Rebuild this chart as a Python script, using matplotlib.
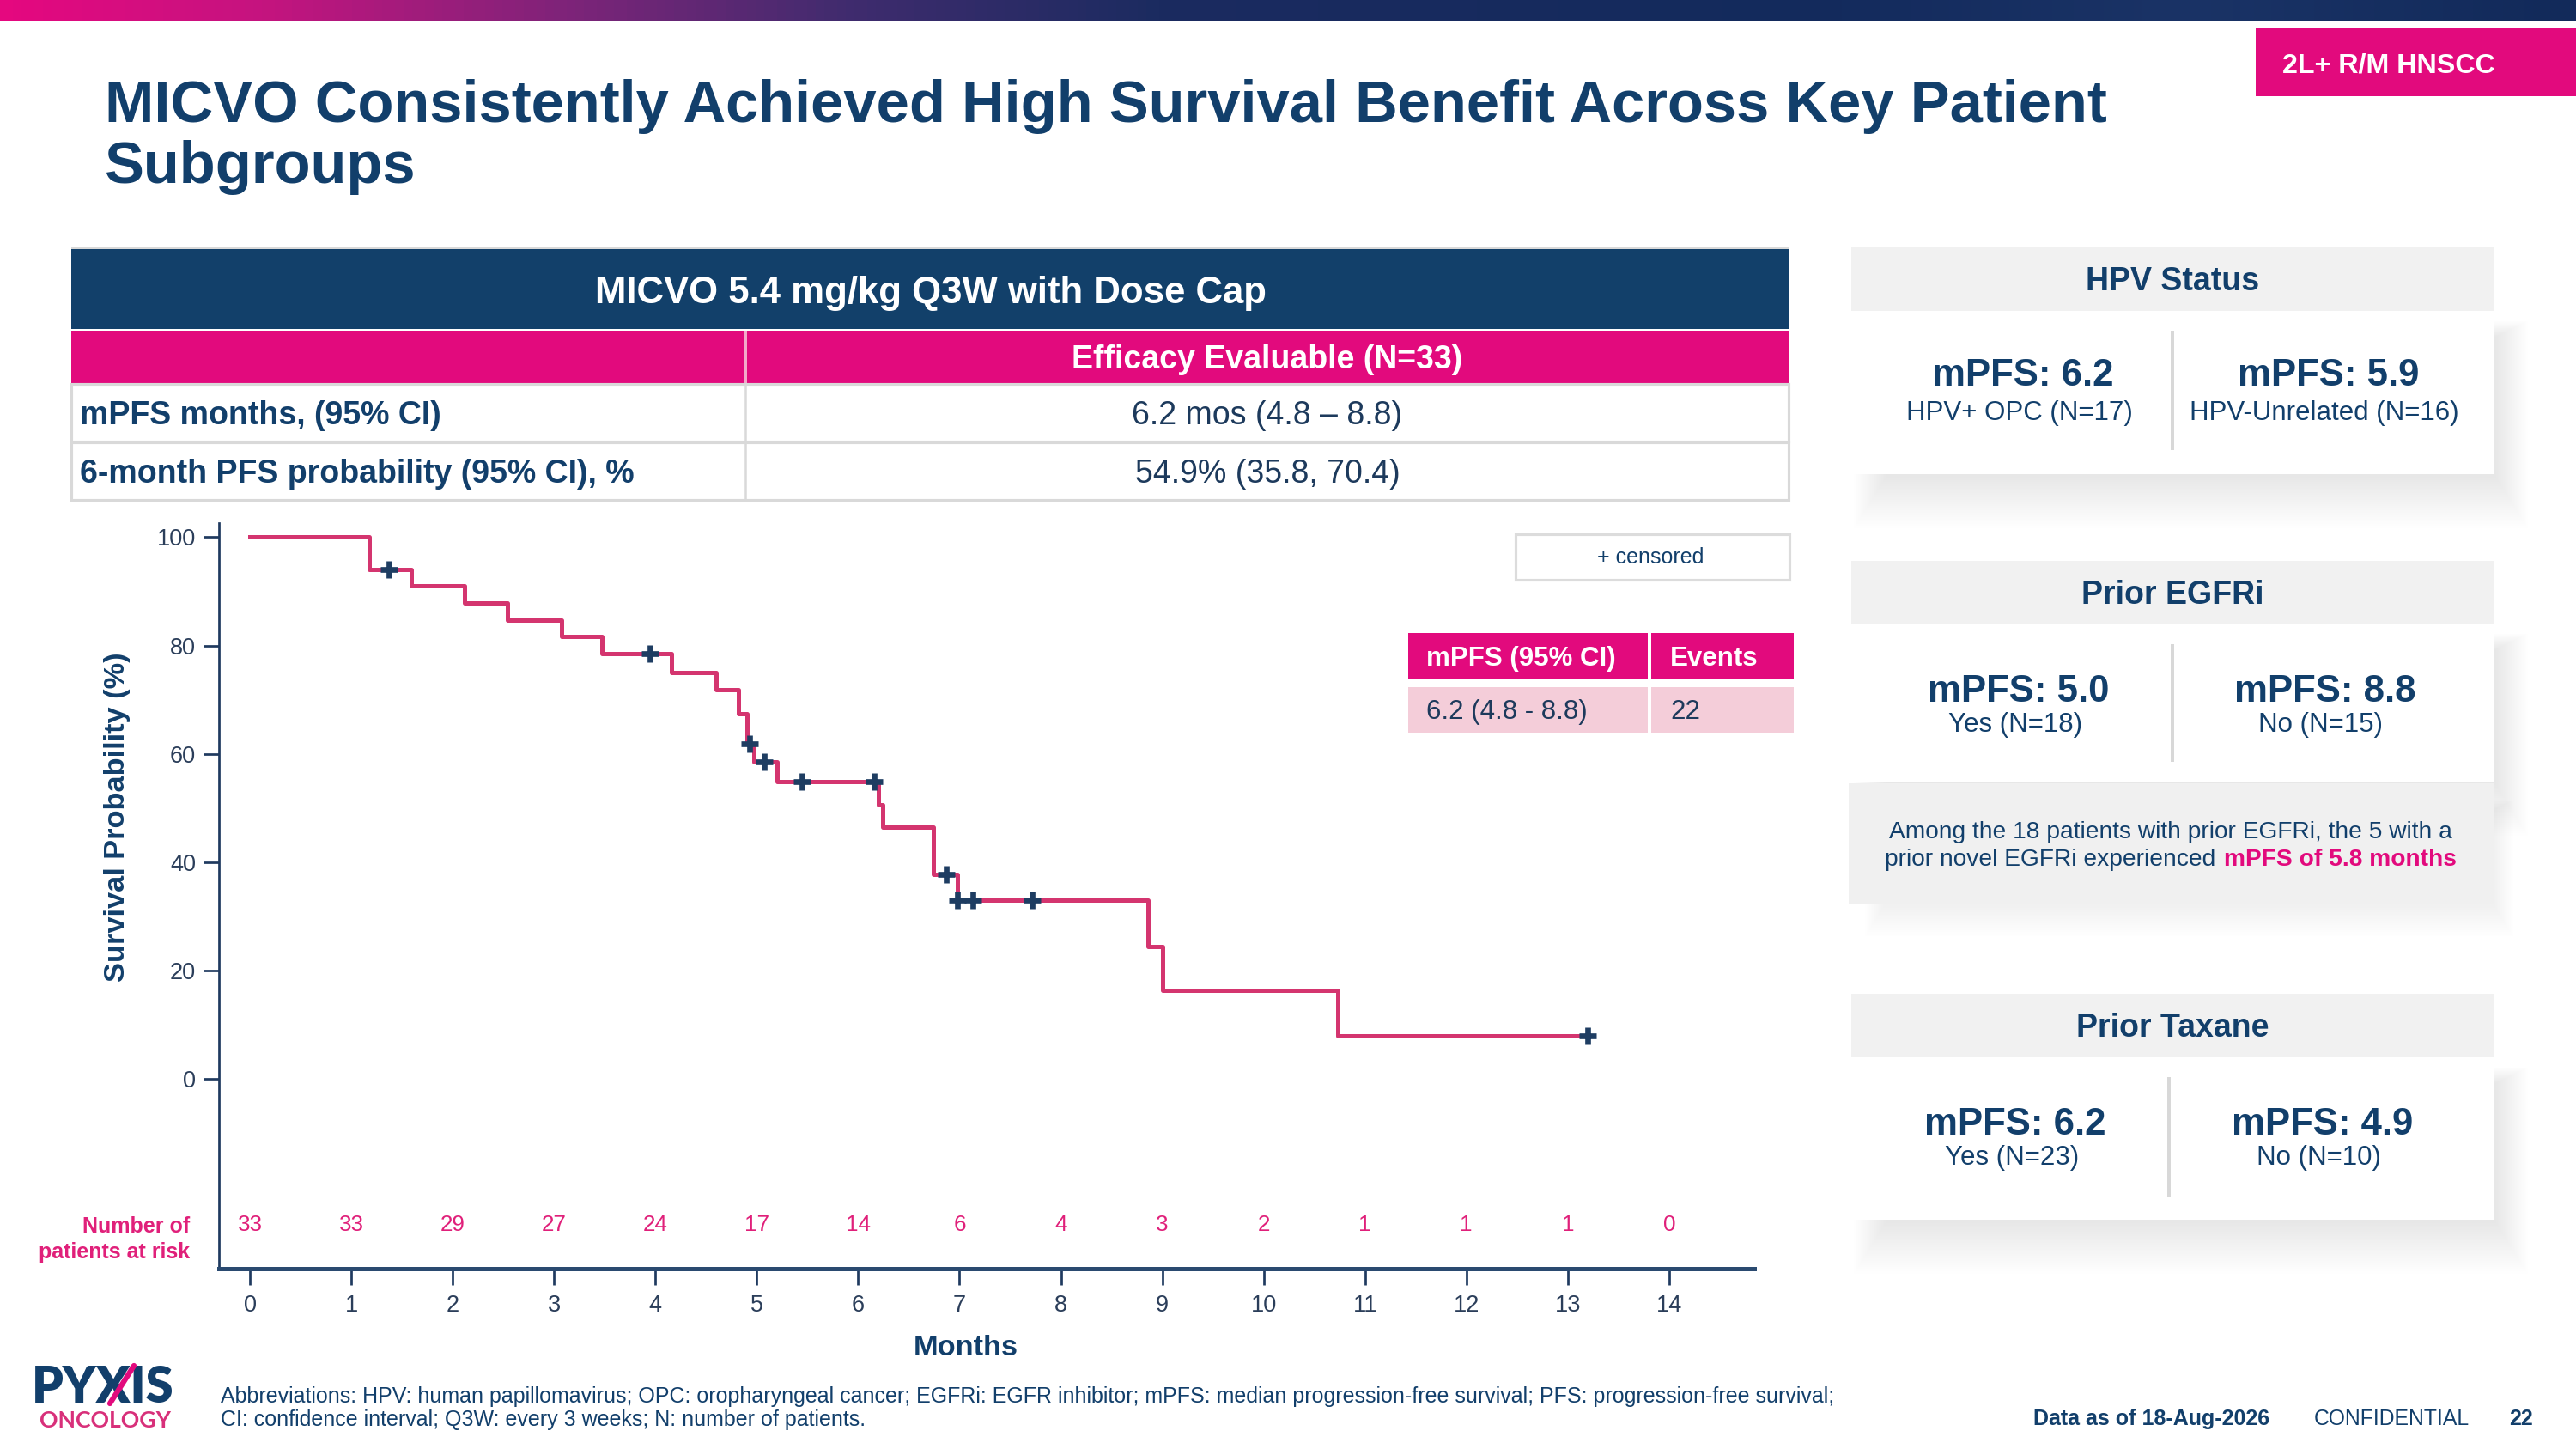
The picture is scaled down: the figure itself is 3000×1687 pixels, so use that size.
import numpy as np
import matplotlib
matplotlib.use("Agg")
from matplotlib import pyplot as plt
from matplotlib.patches import Rectangle
from matplotlib.colors import LinearSegmentedColormap

plt.rcParams['font.family'] = ['Liberation Sans', 'DejaVu Sans']

# ---- data ----
step_times = [0, 1.18, 1.59, 2.12, 2.54, 3.07, 3.47, 4.16, 4.60, 4.82, 4.90, 4.97,
              5.20, 6.20, 6.24, 6.74, 6.98, 8.86, 9.00, 10.73]
step_surv = [100, 94.0, 91.0, 87.8, 84.7, 81.6, 78.5, 75.0, 71.9, 67.4, 61.9, 58.6,
             54.9, 50.6, 46.5, 37.8, 33.0, 24.5, 16.3, 7.9]
last_followup = 13.20
censor_times = [1.37, 3.95, 4.93, 5.07, 5.45, 6.16, 6.87, 6.98, 7.13, 7.72, 13.20]

risk_months = list(range(15))
at_risk = [33, 33, 29, 27, 24, 17, 14, 6, 4, 3, 2, 1, 1, 1, 0]

table_rows = ["mPFS months, (95% CI)", "6-month PFS probability (95% CI), %"]
table_vals = ["6.2 mos (4.8 \u2013 8.8)", "54.9% (35.8, 70.4)"]

cards = [
    ("HPV Status", ("mPFS: 6.2", "HPV+ OPC (N=17)"), ("mPFS: 5.9", "HPV-Unrelated (N=16)")),
    ("Prior EGFRi", ("mPFS: 5.0", "Yes (N=18)"), ("mPFS: 8.8", "No (N=15)")),
    ("Prior Taxane", ("mPFS: 6.2", "Yes (N=23)"), ("mPFS: 4.9", "No (N=10)")),
]

NAVY = '#123f6b'
PINK = '#e20a7d'
KMPINK = '#d4356f'
GREY = '#f1f1f1'
LINE = '#d9d9d9'
PT = 150 / 72.0  # px per point


fig = plt.figure(figsize=(20, 11.2467), dpi=150)
fig.patch.set_facecolor('white')
bg = fig.add_axes([0, 0, 1, 1])
bg.set_zorder(0)

# top banner gradient
cmap = LinearSegmentedColormap.from_list('banner', [
    (0.0, '#e5087f'), (0.10, '#c5147f'), (0.22, '#7d2479'), (0.33, '#3f2c6e'),
    (0.45, '#1b2b60'), (0.7, '#132a5c'), (0.85, '#1a3366'), (1.0, '#122a5a')])
bg.imshow(np.linspace(0, 1, 600)[None, :], cmap=cmap, aspect='auto',
          extent=[0, 3000, 24, 0], zorder=1)
bg.set_xlim(0, 3000)
bg.set_ylim(1687, 0)
bg.axis('off')


def txt(x, yc, s, size, ha='left', weight='normal', color=NAVY, **kw):
    # place text so that the capital letters are centered on yc
    bg.text(x, yc + 0.358 * size * PT, s, fontsize=size, ha=ha, va='baseline',
            fontweight=weight, color=color, zorder=5, **kw)


def rect(x0, y0, x1, y1, fc, ec='none', lw=0, z=2, alpha=1):
    bg.add_patch(Rectangle((x0, y0), x1 - x0, y1 - y0, facecolor=fc, edgecolor=ec,
                           linewidth=lw, zorder=z, alpha=alpha))


def shadow(x0, y0, x1, y1, z, n=24):
    # soft drop shadow built from stacked faint rectangles
    for k in range(n):
        s = 1.6 * k
        rect(x0 + 40 - s, y0 + 30 - 0.5 * s, x1 + 2 + s, y1 + 4 + 1.6 * s, 'black',
             z=z, alpha=0.0045)


# tag
rect(2627, 33, 3000, 112, PINK)
txt(2782, 73, "2L+ R/M HNSCC", 15.5, ha='center', weight='bold', color='white')

# title
bg.text(122, 142, "MICVO Consistently Achieved High Survival Benefit Across Key Patient",
        fontsize=33, fontweight='bold', color=NAVY, va='baseline', zorder=5)
bg.text(122, 213, "Subgroups", fontsize=33, fontweight='bold', color=NAVY,
        va='baseline', zorder=5)

# efficacy table
rect(83, 287, 2083, 290, LINE)
rect(83, 290, 2083, 383, '#12406a')
txt(1084, 337, "MICVO 5.4 mg/kg Q3W with Dose Cap", 21, ha='center', weight='bold', color='white')
rect(83, 385, 2083, 446, PINK)
rect(866, 385, 870, 446, '#f2a9c9')
txt(1476, 416, "Efficacy Evaluable (N=33)", 18, ha='center', weight='bold', color='white')
row_y = [(447, 514), (515, 582)]
for (y0, y1), lab, val in zip(row_y, table_rows, table_vals):
    rect(83, y0, 2083, y1, 'white', ec=LINE, lw=1.5)
    bg.plot([868, 868], [y0, y1], color=LINE, lw=1.2, zorder=3)
    txt(93, (y0 + y1) / 2, lab, 18, weight='bold')
    txt(1476, (y0 + y1) / 2, val, 18, ha='center', color='#1d3a5c')

# legend box + mini table
rect(1765, 622, 2084, 675, 'white', ec='#dcdcdc', lw=1.5)
bg.text(1922, 649, "+ censored", fontsize=12, ha='center', va='center', color=NAVY, zorder=5)
rect(1640, 737, 1919, 790, PINK)
rect(1923, 737, 2089, 790, PINK)
rect(1640, 800, 1919, 853, '#f4cdd9')
rect(1923, 800, 2089, 853, '#f4cdd9')
txt(1661, 764, "mPFS (95% CI)", 15, weight='bold', color='white')
txt(1945, 764, "Events", 15, weight='bold', color='white')
txt(1661, 826, "6.2 (4.8 - 8.8)", 15, color='#1d3a5c')
txt(1945, 826, "22", 15, color='#1d3a5c')

# subgroup cards
card_geo = [
    dict(h=(288, 362), b=(362, 552), div=(2530, 385, 524), big=433, small=478, xl=2356, xr=2712),
    dict(h=(653, 726), b=(726, 910), div=(2530, 750, 887), big=801, small=841, xl=2351, xr=2708),
    dict(h=(1157, 1231), b=(1231, 1420), div=(2526, 1254, 1394), big=1305, small=1345, xl=2347, xr=2705),
]
x0, x1 = 2156, 2905
for (head, left, right), g in zip(cards, card_geo):
    b0, b1 = g['b']
    shadow(x0, b0, x1, b1, 1.2)
    rect(x0, b0, x1, b1, 'white', z=1.5)
    rect(x0, g['h'][0], x1, g['h'][1], GREY, z=1.6)
    txt((x0 + x1) / 2, (g['h'][0] + g['h'][1]) / 2, head, 18, ha='center', weight='bold')
    dx, d0, d1 = g['div']
    rect(dx - 2, d0, dx + 2, d1, '#d8d8d8', z=3)
    txt(g['xl'], g['big'], left[0], 21, ha='center', weight='bold')
    txt(g['xl'] - 4, g['small'], left[1], 15, ha='center')
    txt(g['xr'], g['big'], right[0], 21, ha='center', weight='bold')
    txt(g['xr'] - 5, g['small'], right[1], 15, ha='center')

# EGFRi note box
shadow(2153, 912, 2904, 1053, 1.65, n=14)
rect(2153, 912, 2904, 1053, '#f0f0f0', z=1.7)
txt(2528, 966, "Among the 18 patients with prior EGFRi, the 5 with a", 13.5, ha='center')
txt(2580, 998, "prior novel EGFRi experienced", 13.5, ha='right')
txt(2590, 998, "mPFS of 5.8 months", 13.5, weight='bold', color=PINK)

# axis texts outside the KM axes
bg.text(136, 951, "Survival Probability (%)", fontsize=16.5, fontweight='bold', color=NAVY,
        rotation=90, ha='center', va='center', zorder=5)
txt(1125, 1566, "Months", 16.5, ha='center', weight='bold')
txt(221, 1426, "Number of", 12, ha='right', weight='bold', color='#e0207a')
txt(221, 1456, "patients at risk", 12, ha='right', weight='bold', color='#e0207a')

# footer / logo
bg.text(37, 1612 + 0.358 * 27.8 * PT, "PYXIS", fontsize=27.8, fontweight='heavy', color=NAVY,
        family=['Lato', 'DejaVu Sans'], va='baseline', zorder=5)
bg.plot([128, 156], [1634, 1590], color=PINK, lw=3, zorder=6, solid_capstyle='round')
bg.text(46, 1652 + 0.358 * 12.8 * PT, "ONCOLOGY", fontsize=12.8, fontweight='bold', color='#d8307a',
        family=['Lato', 'DejaVu Sans'], va='baseline', zorder=5)
txt(257, 1624, "Abbreviations: HPV: human papillomavirus; OPC: oropharyngeal cancer; EGFRi: EGFR inhibitor; "
    "mPFS: median progression-free survival; PFS: progression-free survival;", 12)
txt(257, 1651, "CI: confidence interval; Q3W: every 3 weeks; N: number of patients.", 12)
txt(2368, 1650, "Data as of 18-Aug-2026", 12, weight='bold')
txt(2695, 1650, "CONFIDENTIAL", 11.9)
txt(2922, 1650, "22", 12, weight='bold')

# ---- Kaplan-Meier axes ----
ax = fig.add_axes([254.5 / 3000, 1 - 1477 / 1687, (2043 - 254.5) / 3000, (1477 - 609) / 1687])
ax.set_zorder(2)
ax.patch.set_alpha(0)
ax.set_xlim(-0.31, 14.84)
ax.set_ylim(-35, 102.6)

t = step_times + [last_followup]
s = step_surv + [step_surv[-1]]
ax.step(t, s, where='post', color=KMPINK, lw=2.4, zorder=3)

idx = [np.searchsorted(step_times, c, side='right') - 1 for c in censor_times]
ax.plot(censor_times, [step_surv[i] for i in idx], linestyle='none', marker='+',
        markersize=10, markeredgewidth=3.2, color='#1e3d62', zorder=4)

for m, n in zip(risk_months, at_risk):
    ax.text(m, -26.9, str(n), fontsize=12.5, ha='center', va='center', color='#e0207a')

for side in ['top', 'right']:
    ax.spines[side].set_visible(False)
ax.spines['left'].set_color('#1f3a5f')
ax.spines['left'].set_linewidth(1.3)
ax.spines['bottom'].set_color('#2a4a70')
ax.spines['bottom'].set_linewidth(2.4)

ax.set_xticks(risk_months)
ax.set_yticks([0, 20, 40, 60, 80, 100])
ax.tick_params(axis='x', length=9, width=1.3, color='#1f3a5f', pad=5.5, labelsize=13,
               labelcolor='#2b3e5a')
ax.tick_params(axis='y', length=8.7, width=1.3, color='#1f3a5f', pad=4, labelsize=13,
               labelcolor='#2b3e5a')

fig.savefig('out.png', dpi=150)
